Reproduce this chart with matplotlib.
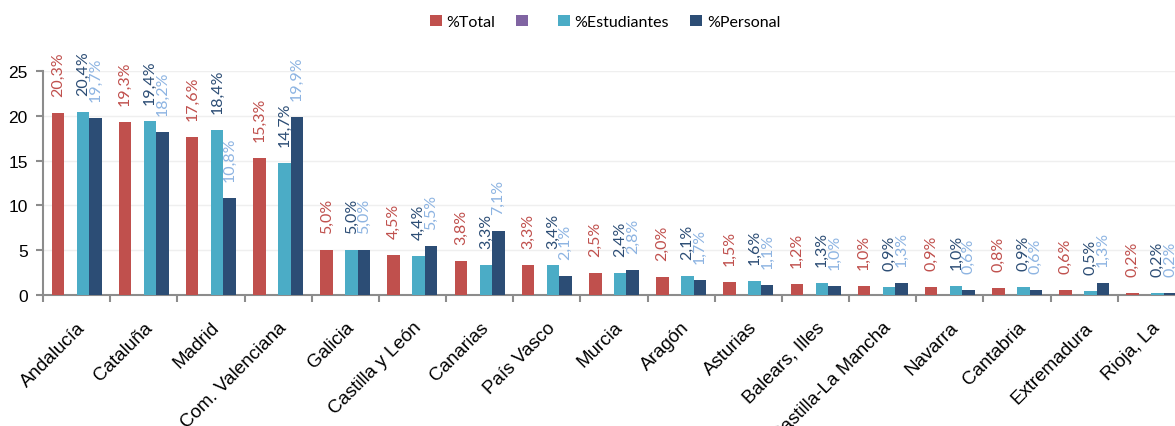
import matplotlib
matplotlib.use("Agg")
import matplotlib.pyplot as plt
import numpy as np

categories = ["Andalucía", "Cataluña", "Madrid", "Com. Valenciana", "Galicia",
              "Castilla y León", "Canarias", "País Vasco", "Murcia", "Aragón",
              "Asturias", "Balears, Illes", "Castilla-La Mancha", "Navarra",
              "Cantabria", "Extremadura", "Rioja, La"]
total = [20.3, 19.3, 17.6, 15.3, 5.0, 4.5, 3.8, 3.3, 2.5, 2.0, 1.5, 1.2, 1.0, 0.9, 0.8, 0.6, 0.2]
empty_series = [0] * 17
estudiantes = [20.4, 19.4, 18.4, 14.7, 5.0, 4.4, 3.3, 3.4, 2.4, 2.1, 1.6, 1.3, 0.9, 1.0, 0.9, 0.5, 0.2]
personal = [19.7, 18.2, 10.8, 19.9, 5.0, 5.5, 7.1, 2.1, 2.8, 1.7, 1.1, 1.0, 1.3, 0.6, 0.6, 1.3, 0.2]
yticks = [0, 5, 10, 15, 20, 25]

c_total = "#C0504D"
c_purple = "#8064A2"
c_est = "#4BACC6"
c_pers = "#2C4D75"
lab_est = "#2C4D75"
lab_pers = "#8DB4E2"

fig = plt.figure(figsize=(11.75, 4.27), dpi=100)
ax = fig.add_axes([43 / 1175, 131 / 427, 1142 / 1175, 224 / 427])

x = np.arange(len(categories))
w = 0.186
series = [(total, c_total, "%Total"), (empty_series, c_purple, " "),
          (estudiantes, c_est, "%Estudiantes"), (personal, c_pers, "%Personal")]
offsets = [-1.5 * w, -0.5 * w, 0.5 * w, 1.5 * w]
for (vals, col, lab), off in zip(series, offsets):
    ax.bar(x + off, vals, width=w, color=col, label=lab, linewidth=0, zorder=3)

label_font = "Lato"
def add_labels(vals, off, color):
    for xi, v in zip(x, vals):
        ax.annotate(f"{v:.1f}%".replace(".", ","), (xi + off, v),
                    xytext=(0, 17), textcoords="offset pixels",
                    rotation=90, ha="center", va="bottom", color=color,
                    fontsize=11.5, family=label_font, annotation_clip=False,
                    clip_on=False, zorder=5)

add_labels(total, offsets[0], c_total)
add_labels(estudiantes, offsets[2], lab_est)
add_labels(personal, offsets[3], lab_pers)

ax.set_xlim(-0.5, len(categories) - 0.5)
ax.set_ylim(0, 25)
ax.set_yticks(yticks)
ax.set_yticklabels([str(t) for t in yticks], fontsize=12.5, family="Liberation Sans")
ax.yaxis.grid(True, color="#EFEFEF", linewidth=1.0, zorder=0)
ax.set_axisbelow(True)

ax.set_xticks(x)
ax.set_xticklabels(categories, rotation=45, ha="right", va="top",
                   rotation_mode="anchor", fontsize=13.5, family="Liberation Sans")
ax.set_xticks(np.arange(len(categories) + 1) - 0.5, minor=True)
ax.tick_params(axis="x", which="major", length=0, pad=17)
ax.tick_params(axis="x", which="minor", length=5, width=1.5, color="#8C8C8C")
ax.tick_params(axis="y", length=5, width=1.5, color="#8C8C8C", pad=6)

for s in ["top", "right"]:
    ax.spines[s].set_visible(False)
for s in ["left", "bottom"]:
    ax.spines[s].set_color("#8C8C8C")
    ax.spines[s].set_linewidth(1.5)

leg = fig.legend(loc="center", bbox_to_anchor=(605 / 1175, 1 - 23 / 427), ncol=4,
                 frameon=False, handlelength=0.75, handleheight=0.75,
                 handletextpad=0.3, columnspacing=1.3,
                 prop={"family": "Lato", "size": 11.5})

fig.savefig("out.png", dpi=100)
